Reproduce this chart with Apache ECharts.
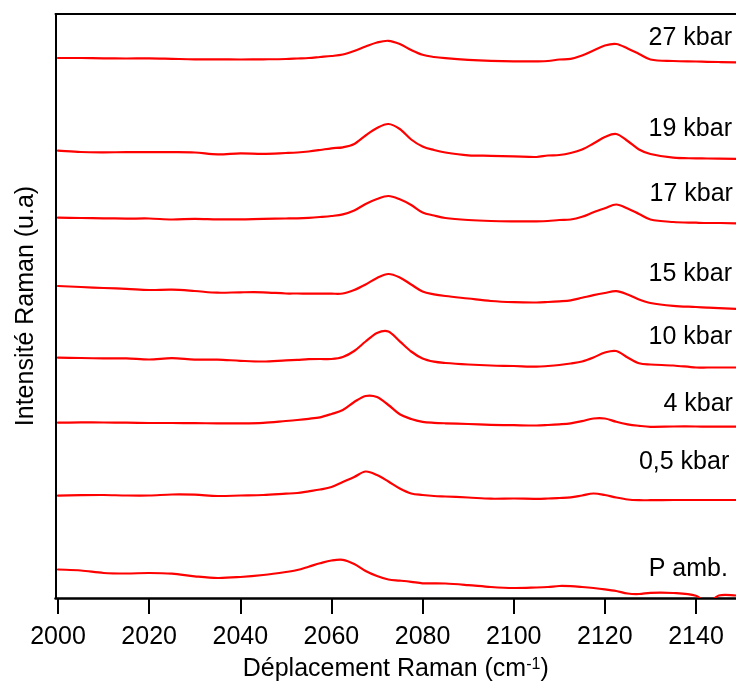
<!DOCTYPE html>
<html>
<head>
<meta charset="utf-8">
<script src="https://cdn.jsdelivr.net/npm/echarts@6/dist/echarts.min.js"></script>
<style>
  html, body { margin: 0; padding: 0; background: #ffffff; }
  #chart { width: 736px; height: 683px; }
</style>
</head>
<body>
<div id="chart"></div>
<script>
// Raman shift sampling grid (cm-1), shared by all spectra
const wavenumbers = [2000, 2005, 2010, 2015, 2020, 2025, 2030, 2035, 2040, 2045,
  2050, 2052.5, 2055, 2057.5, 2060, 2062.5, 2065, 2067.5, 2070, 2072.5,
  2075, 2077.5, 2080, 2082.5, 2085, 2090, 2095, 2100, 2105, 2107.5,
  2110, 2112.5, 2115, 2117.5, 2120, 2122.5, 2125, 2127.5, 2130, 2135,
  2140, 2142.5, 2145, 2149];

// Pressure of each spectrum (top to bottom)
const pressures = ['27 kbar', '19 kbar', '17 kbar', '15 kbar', '10 kbar', '4 kbar', '0,5 kbar', 'P amb.'];

// Vertical stacking offset of each spectrum (u.a.)
const offsets = [540, 447, 380, 312, 240, 175.5, 103, 28.5];

// Intensities relative to each spectrum's own offset (u.a.)
const spectrum27kbar = [0, 0, -0.3, -0.5, -0.3, -0.8, -1.3, -1.3, -1.5, -1.3,
  -1, -0.5, 0, 1, 2, 3.5, 7, 11.5, 15.5, 17.2,
  14, 8, 3.2, 1, -0.2, -1.8, -2.8, -3.3, -3.3, -3,
  -1.5, -0.8, 2.5, 7.5, 12.5, 14, 9.5, 4, -1.5, -3,
  -3.5, -3.8, -4, -4.5];
const spectrum19kbar = [0.3, -1, -1.3, -1.2, -1.2, -1.2, -1.5, -3.3, -2.3, -2.8,
  -2, -1.5, -0.5, 1, 2.7, 3.7, 7, 15.5, 23, 27,
  22, 11.5, 4.5, 1, -1.5, -4.3, -4.8, -5.3, -6, -4.5,
  -4, -2, 1.5, 7.5, 14, 17, 10, 1.5, -3, -6.7,
  -7.3, -7.5, -7.6, -7.8];
const spectrum17kbar = [0.3, 0, -0.3, -0.6, -0.5, -1.5, -0.8, -1.3, -1.3, -0.8,
  -0.5, -0.3, 0.2, 1, 2, 3.6, 7.5, 14, 19, 22,
  18.7, 13, 5.5, 2.5, 0, -2, -3, -3.3, -3.3, -3,
  -2, -1.5, 1.2, 5.7, 9.7, 13.5, 9.5, 4, -1.5, -4,
  -4.7, -5, -5, -5.3];
const spectrum15kbar = [0, -1, -2, -2.8, -4, -3.7, -5, -6.7, -6.3, -6.3,
  -7.5, -7.5, -7.7, -7.7, -7.7, -7.5, -4, 1.5, 8, 12,
  8.5, 1.5, -5.5, -8.3, -10, -12.5, -15, -16.2, -16.5, -16,
  -15.3, -14.3, -11.8, -9.2, -7, -5.2, -8.5, -13.5, -17, -19.8,
  -21, -21.6, -22.2, -23];
const spectrum10kbar = [0.3, 0, -0.4, -0.4, -1.5, -0.2, -1.6, -1.6, -2.8, -3.5,
  -2.3, -1.8, -1.2, -1, -1, 1, 7, 16.5, 25, 26.5,
  16.7, 6.5, -0.5, -3.7, -5, -6.5, -7.5, -8, -8.7, -8,
  -7, -5.5, -3.5, 0.5, 5.5, 7, 0.5, -5.3, -6.5, -7.5,
  -9.5, -9.5, -9.5, -9.5];
const spectrum4kbar = [-0.2, 0.1, 0, -0.1, -0.5, -0.5, -0.7, -0.8, -0.8, -0.3,
  1.5, 2.5, 3.7, 5.2, 8.5, 12.5, 20.5, 26.5, 25.5, 17.5,
  8.2, 3.5, 0.7, -0.3, -0.8, -1.5, -2.3, -2.7, -3, -2.5,
  -1.8, -0.8, 1.3, 4, 4, 0.7, -1.8, -3.3, -4.3, -4,
  -4, -4.1, -4.2, -4.2];
const spectrum05kbar = [-0.7, -0.2, 0, -0.5, -0.5, 0.5, 0.3, -1, -0.5, 0,
  1.3, 2, 3.7, 5.5, 8, 13, 18, 23.5, 20, 13.5,
  6.5, 1.5, 0, -1, -1.5, -2.5, -3.7, -3.5, -3.8, -3.5,
  -3, -2.4, -0.5, 1.5, 0, -2.5, -4.5, -5.2, -5.2, -5,
  -5, -5, -5, -5];
const spectrumAmbient = [0, -1, -3.5, -4, -3.5, -4.2, -6.8, -8.5, -7.5, -5.5,
  -2.5, -0.5, 2.8, 6.2, 9, 9.7, 5.5, -1.5, -6.5, -10,
  -11.1, -12.3, -13.8, -13.8, -14, -15.6, -17.5, -18.5, -18, -17.5,
  -16.5, -16.7, -17.5, -18.5, -19.8, -21.5, -24, -24.5, -23.3, -23.5,
  -26.3, -33, -26, -26];

const spectra = [spectrum27kbar, spectrum19kbar, spectrum17kbar, spectrum15kbar,
  spectrum10kbar, spectrum4kbar, spectrum05kbar, spectrumAmbient];

// Tick labels of the Raman shift axis
const tickValues = [2000, 2020, 2040, 2060, 2080, 2100, 2120, 2140];

// Where each pressure label sits, in axis units (right edge, vertical centre)
const labelPlacement = [
  [2147.9, 559.5], [2147.9, 468.5], [2148.1, 403.5], [2147.9, 323.5],
  [2147.9, 260.5], [2148.1, 193.5], [2147.3, 135.5], [2147.0, 29]
];

const FONT = "'Liberation Sans', Arial, Helvetica, sans-serif";
const X_MIN = 1999.45, X_MAX = 2148.78;

const chart = echarts.init(document.getElementById('chart'), null, { renderer: 'canvas' });

// Smooth trace through the projected samples (cubic Hermite, tangents from neighbours)
function tracePath(pts) {
  const n = pts.length;
  const slope = pts.map((p, k) => {
    const a = pts[Math.max(k - 1, 0)];
    const b = pts[Math.min(k + 1, n - 1)];
    return (b[1] - a[1]) / (b[0] - a[0]);
  });
  let d = 'M' + pts[0][0].toFixed(2) + ' ' + pts[0][1].toFixed(2);
  for (let k = 0; k < n - 1; k++) {
    const p = pts[k], q = pts[k + 1];
    const h = (q[0] - p[0]) / 3;
    d += ' C' + (p[0] + h).toFixed(2) + ' ' + (p[1] + slope[k] * h).toFixed(2) +
         ' ' + (q[0] - h).toFixed(2) + ' ' + (q[1] - slope[k + 1] * h).toFixed(2) +
         ' ' + q[0].toFixed(2) + ' ' + q[1].toFixed(2);
  }
  return d;
}

const series = spectra.map((values, i) => ({
  name: pressures[i],
  type: 'custom',
  coordinateSystem: 'cartesian2d',
  clip: true,
  silent: true,
  z: 2,
  encode: { x: 0, y: 1 },
  data: wavenumbers.map((w, j) => [w, offsets[i] + values[j]]),
  renderItem: function (params, api) {
    if (params.dataIndex !== 0) return null;
    const pts = wavenumbers.map((w, j) => api.coord([w, offsets[i] + values[j]]));
    return {
      type: 'path',
      shape: { pathData: tracePath(pts) },
      style: { fill: 'none', stroke: '#ff0000', lineWidth: 2.2, lineJoin: 'round', lineCap: 'round' }
    };
  }
}));

chart.setOption({
  animation: false,
  backgroundColor: '#ffffff',
  textStyle: { fontFamily: FONT },
  grid: { left: 55.5, top: 14, right: 0, bottom: 85, containLabel: false, outerBoundsMode: 'none' },
  xAxis: [{
    type: 'value',
    position: 'bottom',
    min: X_MIN,
    max: X_MAX,
    axisLine: { show: true, onZero: false, lineStyle: { color: '#000', width: 2.5 } },
    axisTick: { show: true, inside: false, length: 16, customValues: tickValues,
      lineStyle: { color: '#000', width: 2 } },
    axisLabel: { show: true, customValues: tickValues, margin: 27, fontSize: 25,
      color: '#000', fontFamily: FONT, formatter: (v) => String(v) },
    splitLine: { show: false },
    name: 'Déplacement Raman (cm{sup|-1})',
    nameLocation: 'middle',
    nameGap: 59,
    nameTextStyle: {
      fontSize: 25, color: '#000', fontFamily: FONT,
      rich: { sup: { fontSize: 16, color: '#000', fontFamily: FONT, verticalAlign: 'top', lineHeight: 4 } }
    }
  }, {
    type: 'value',
    position: 'top',
    min: X_MIN,
    max: X_MAX,
    axisLine: { show: true, onZero: false, lineStyle: { color: '#000', width: 2 } },
    axisTick: { show: false },
    axisLabel: { show: false },
    splitLine: { show: false }
  }],
  yAxis: {
    type: 'value',
    min: 0,
    max: 584,
    axisLine: { show: true, onZero: false, lineStyle: { color: '#000', width: 2 } },
    axisTick: { show: false },
    axisLabel: { show: false },
    splitLine: { show: false },
    name: 'Intensité Raman (u.a)',
    nameLocation: 'middle',
    nameGap: 17,
    nameRotate: 90,
    nameTextStyle: { fontSize: 25, color: '#000', fontFamily: FONT }
  },
  series: series
});

// Pressure labels next to each spectrum
const graphics = pressures.map((text, i) => {
  const p = chart.convertToPixel({ gridIndex: 0 }, labelPlacement[i]);
  return {
    type: 'text',
    x: p[0],
    y: p[1],
    z: 10,
    style: {
      text: text,
      fill: '#000',
      font: '25px ' + FONT,
      textAlign: 'right',
      textVerticalAlign: 'middle'
    }
  };
});
chart.setOption({ graphic: graphics });
</script>
</body>
</html>
